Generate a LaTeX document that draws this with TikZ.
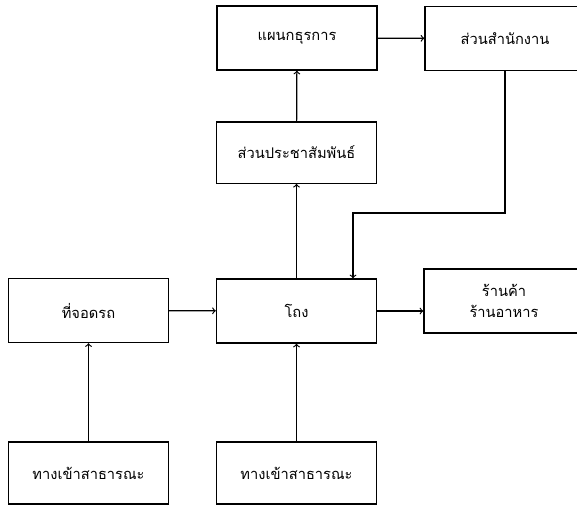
\documentclass[tikz,border=0pt]{standalone}
\usepackage{fontspec}
\newfontfamily\thaifont[Script=Thai]{Loma}
\usetikzlibrary{positioning, arrows}

\tikzset{
  box/.style={draw, line width=1pt, minimum width=120pt, minimum height=48pt, inner sep=0pt, align=center, font=\thaifont\fontsize{11}{16}\selectfont},
  link/.style={line width=0.9pt, ->}
}

\begin{document}
\begin{tikzpicture}[x=0.75pt,y=0.75pt,yscale=-1,xscale=1]
\useasboundingbox (0,0) rectangle (577,504);

% top row
\node (admin) [box] at (297,38) {แผนกธุรการ};
\node (office) [box] at (505,38.5) {ส่วนสำนักงาน};
% public relations
\node (pr) [box, minimum height=46pt] at (296.5,152.5) {ส่วนประชาสัมพันธ์};
% middle row
\node (parking) [box] at (88.5,310.5) {ที่จอดรถ};
\node (hall) [box] at (296.5,311) {โถง};
\node (shop) [box] at (504,301) {ร้านค้า\\ร้านอาหาร};
% entrances
\node (entryA) [box, minimum height=46.5pt] at (88.5,473) {ทางเข้าสาธารณะ};
\node (entryB) [box, minimum height=46.5pt] at (296.5,473) {ทางเข้าสาธารณะ};

\coordinate (turn) at (353,213);

% connectors
\draw [link] (pr) -- (admin);
\draw [link] (admin) -- (office);
\draw [link] (office.south) |- (turn) -- (turn |- hall.north);
\draw [link] (hall) -- (pr);
\draw [link] (parking) -- (hall);
\draw [link] (hall.east) -- (hall.east -| shop.west);
\draw [link] (entryA) -- (parking);
\draw [link] (entryB) -- (hall);

\end{tikzpicture}
\end{document}
